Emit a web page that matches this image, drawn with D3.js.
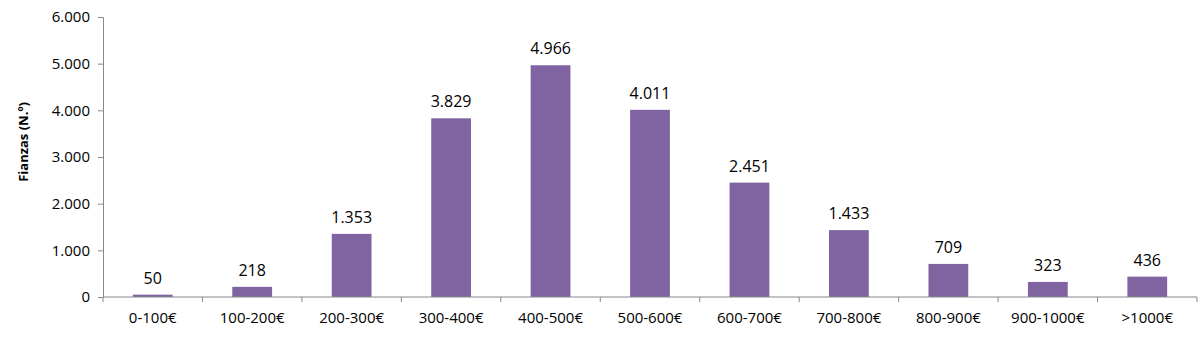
<!DOCTYPE html>
<html><head><meta charset="utf-8">
<script src="https://cdn.jsdelivr.net/npm/d3@7"></script>
<style>body{margin:0;background:#fff;} svg{display:block;font-family:"Open Sans",Lato,sans-serif;}</style>
</head><body><svg id="c" width="1200" height="358"></svg>
<script>
const categories = ["0-100€","100-200€","200-300€","300-400€","400-500€","500-600€","600-700€","700-800€","800-900€","900-1000€",">1000€"];
const values = [50,218,1353,3829,4966,4011,2451,1433,709,323,436];
const yTicks = [0,1000,2000,3000,4000,5000,6000];
const yTitle = "Fianzas (N.º)";

const svg = d3.select("#c");
const mLeft = 103, mRight = 1197, mTop = 17, mBottom = 297;
const fmt = v => d3.format(",")(v).replace(/,/g,".");
const x = d3.scaleBand().domain(categories).range([mLeft,mRight]).paddingInner(0.6).paddingOuter(0.3);
const y = d3.scaleLinear().domain([0,6000]).range([mBottom,mTop]);

svg.selectAll("rect.bar").data(values).join("rect").attr("class","bar")
  .attr("x",(d,i)=>x(categories[i])).attr("width",x.bandwidth())
  .attr("y",d=>y(d)).attr("height",d=>mBottom-y(d)).attr("fill","#8064A2");

svg.selectAll("text.lbl").data(values).join("text").attr("class","lbl")
  .attr("x",(d,i)=>x(categories[i])+x.bandwidth()/2).attr("y",d=>y(d)-11)
  .attr("text-anchor","middle").attr("font-size",16).attr("fill","#000").text(fmt);

const ya = svg.append("g").attr("transform",`translate(${mLeft},0)`)
  .call(d3.axisLeft(y).tickValues(yTicks).tickFormat(fmt).tickSize(5).tickPadding(8));
ya.select(".domain").attr("stroke","#888");
ya.selectAll(".tick line").attr("stroke","#888");
ya.selectAll(".tick text").attr("font-size",15).attr("fill","#000").attr("font-family","'Open Sans',sans-serif");

const xa = svg.append("g").attr("transform",`translate(0,${mBottom})`);
xa.append("line").attr("x1",mLeft).attr("x2",mRight).attr("stroke","#888");
const bounds = d3.range(categories.length+1).map(i=>mLeft+i*(mRight-mLeft)/categories.length);
xa.selectAll("line.t").data(bounds).join("line").attr("class","t")
  .attr("x1",d=>d).attr("x2",d=>d).attr("y1",0).attr("y2",5).attr("stroke","#888");
xa.selectAll("text").data(categories).join("text")
  .attr("x",d=>x(d)+x.bandwidth()/2).attr("y",26).attr("text-anchor","middle")
  .attr("font-size",15).attr("fill","#000").text(d=>d);

svg.append("text").attr("transform","translate(28,142) rotate(-90)")
  .attr("text-anchor","middle").attr("font-size",13).attr("font-weight","bold").text(yTitle);
</script></body></html>
